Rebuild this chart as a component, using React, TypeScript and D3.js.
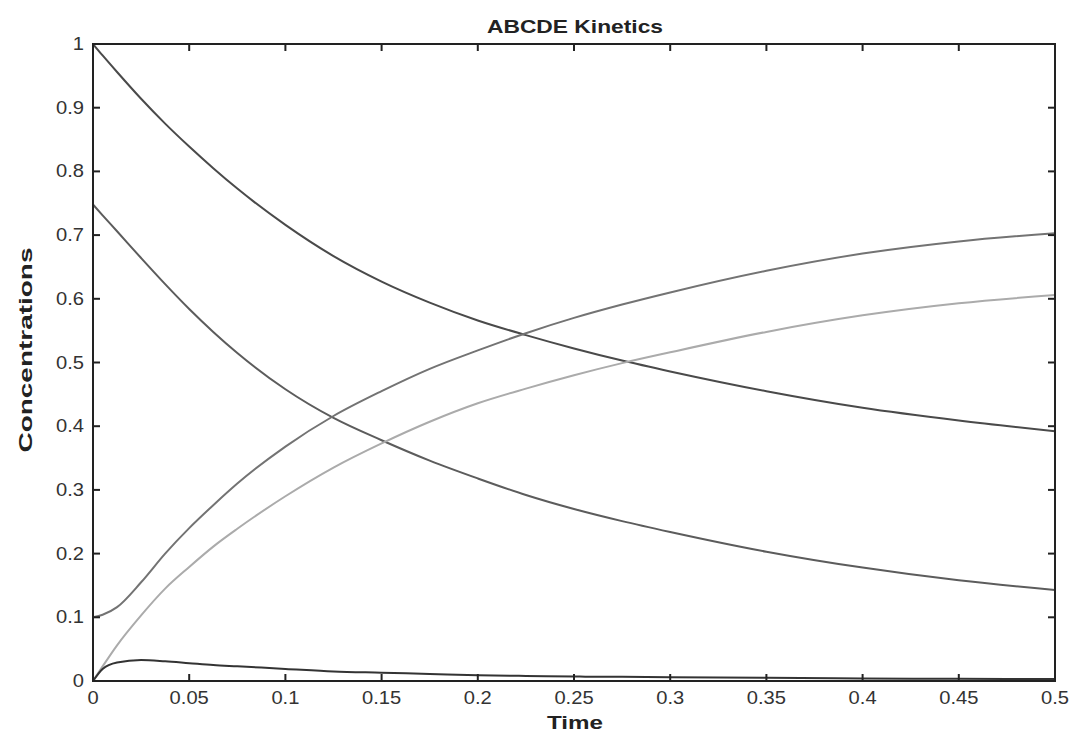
import React from "react";
import * as d3 from "d3";

const times = [0, 0.005, 0.0125, 0.025, 0.0375, 0.05, 0.0625, 0.075, 0.1, 0.125, 0.15, 0.175, 0.2, 0.225, 0.25, 0.275, 0.3, 0.35, 0.4, 0.45, 0.5];
const seriesA = [1.0, 0.982, 0.956, 0.914, 0.875, 0.839, 0.805, 0.773, 0.716, 0.667, 0.627, 0.594, 0.566, 0.543, 0.522, 0.503, 0.486, 0.455, 0.429, 0.409, 0.392];
const seriesB = [0.748, 0.731, 0.706, 0.664, 0.623, 0.584, 0.548, 0.515, 0.458, 0.413, 0.378, 0.346, 0.318, 0.292, 0.27, 0.251, 0.234, 0.203, 0.178, 0.158, 0.143];
const seriesC = [0.1, 0.104, 0.116, 0.155, 0.2, 0.24, 0.276, 0.31, 0.368, 0.416, 0.455, 0.49, 0.519, 0.546, 0.57, 0.591, 0.61, 0.644, 0.671, 0.69, 0.703];
const seriesD = [0, 0.023, 0.056, 0.103, 0.145, 0.179, 0.211, 0.239, 0.29, 0.335, 0.373, 0.407, 0.436, 0.459, 0.48, 0.499, 0.516, 0.548, 0.574, 0.593, 0.606];
const seriesE = [0, 0.019, 0.029, 0.033, 0.031, 0.028, 0.025, 0.023, 0.019, 0.015, 0.013, 0.011, 0.009, 0.008, 0.007, 0.0065, 0.006, 0.005, 0.004, 0.0035, 0.003];
const xTicks = [0, 0.05, 0.1, 0.15, 0.2, 0.25, 0.3, 0.35, 0.4, 0.45, 0.5];
const yTicks = [0, 0.1, 0.2, 0.3, 0.4, 0.5, 0.6, 0.7, 0.8, 0.9, 1];

const seriesList = [
  { name: "A", values: seriesA, color: "#4a4a4a" },
  { name: "B", values: seriesB, color: "#5c5c5c" },
  { name: "C", values: seriesC, color: "#737373" },
  { name: "D", values: seriesD, color: "#ababab" },
  { name: "E", values: seriesE, color: "#333333" },
];

export default function App() {
  const W = 1070, H = 736;
  const left = 93, right = 1055, top = 44, bottom = 681;
  const x = d3.scaleLinear().domain([0, 0.5]).range([left, right]);
  const y = d3.scaleLinear().domain([0, 1]).range([bottom, top]);
  const font = "'Liberation Sans', Arial, Helvetica, sans-serif";
  const tl = 7;
  const sx = 1.12;
  const fmt = (v: number) => String(+v.toFixed(2));

  const line = (vals: number[]) =>
    d3.line<number>()
      .x((_, i) => x(times[i]))
      .y((d) => y(d))
      .curve(d3.curveMonotoneX)(vals) || "";

  return (
    <svg width={W} height={H} style={{ position: "absolute", left: 0, top: 0, background: "#fff" }}>
      <rect x={0} y={0} width={W} height={H} fill="#fff" />
      <text x={575} y={33} textAnchor="middle" fontFamily={font} fontWeight="bold" fontSize={19} fill="#222"
        textLength={176} lengthAdjust="spacingAndGlyphs">ABCDE Kinetics</text>
      <g>
        {seriesList.map((s) => (
          <path key={s.name} d={line(s.values)} fill="none" stroke={s.color} strokeWidth={2} />
        ))}
      </g>
      <rect x={left} y={top} width={right - left} height={bottom - top} fill="none" stroke="#222" strokeWidth={2} />
      {xTicks.map((t) => (
        <g key={"x" + t}>
          <line x1={x(t)} x2={x(t)} y1={bottom} y2={bottom - tl} stroke="#222" strokeWidth={2} />
          <line x1={x(t)} x2={x(t)} y1={top} y2={top + tl} stroke="#222" strokeWidth={2} />
          <text transform={`translate(${x(t)}, 704) scale(${sx}, 1)`} textAnchor="middle" fontFamily={font} fontSize={18} fill="#333">{fmt(t)}</text>
        </g>
      ))}
      {yTicks.map((t) => (
        <g key={"y" + t}>
          <line x1={left} x2={left + tl} y1={y(t)} y2={y(t)} stroke="#222" strokeWidth={2} />
          <line x1={right} x2={right - tl} y1={y(t)} y2={y(t)} stroke="#222" strokeWidth={2} />
          <text transform={`translate(84, ${y(t) + 6}) scale(${sx}, 1)`} textAnchor="end" fontFamily={font} fontSize={18} fill="#333">{fmt(t)}</text>
        </g>
      ))}
      <text x={575} y={729} textAnchor="middle" fontFamily={font} fontWeight="bold" fontSize={19} fill="#222"
        textLength={56} lengthAdjust="spacingAndGlyphs">Time</text>
      <text transform={`translate(32, 350) rotate(-90)`} textAnchor="middle" fontFamily={font} fontWeight="bold" fontSize={19} fill="#222"
        textLength={205} lengthAdjust="spacingAndGlyphs">Concentrations</text>
    </svg>
  );
}
